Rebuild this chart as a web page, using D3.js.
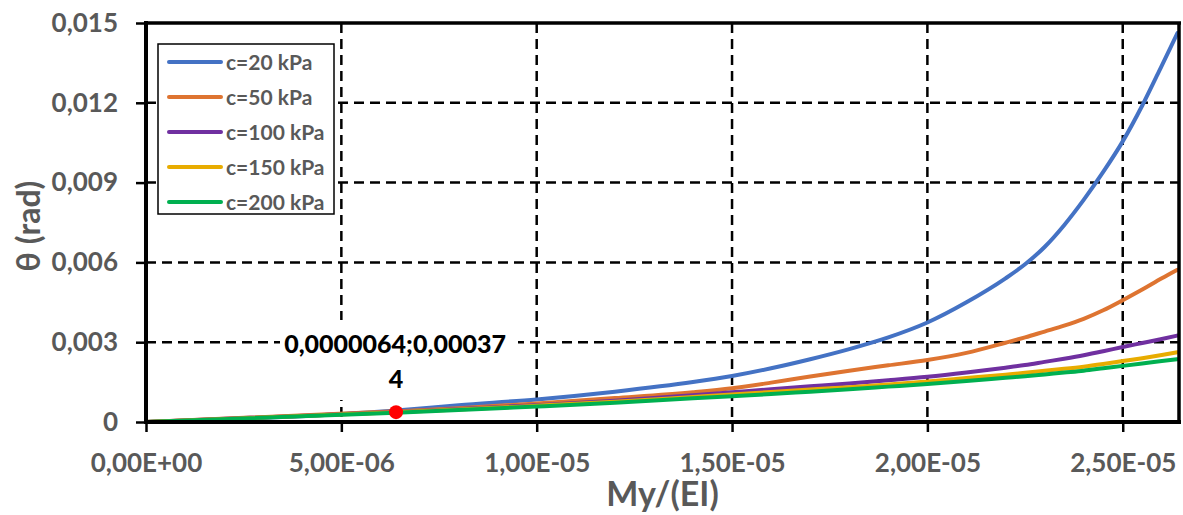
<!DOCTYPE html>
<html>
<head>
<meta charset="utf-8">
<script src="https://cdn.jsdelivr.net/npm/d3@7"></script>
<style>
  html, body { margin: 0; padding: 0; background: #fff; }
  svg { display: block; }
  text { font-family: Lato, "Open Sans", sans-serif; font-weight: bold; }
</style>
</head>
<body>
<svg id="chart" width="1183" height="515"></svg>
<script>
// ---- data ----
const xValues = [0, 6.4e-6, 8e-6, 10e-6, 12e-6, 14e-6, 15e-6, 16e-6, 17e-6, 18e-6, 19e-6, 20e-6, 21e-6, 22e-6, 22.5e-6, 23e-6, 23.5e-6, 24e-6, 24.5e-6, 25e-6, 25.5e-6, 26e-6, 26.4e-6];
const c20  = [0, 0.00043, 0.00063, 0.00085, 0.00114, 0.00150, 0.00173, 0.00202, 0.00236, 0.00274, 0.00318, 0.00374, 0.00450, 0.00540, 0.00593, 0.00658, 0.00740, 0.00835, 0.00940, 0.01055, 0.01190, 0.01340, 0.01462];
const c50  = [0, 0.00040, 0.00052, 0.00070, 0.00090, 0.00112, 0.00127, 0.00148, 0.00171, 0.00193, 0.00213, 0.00233, 0.00260, 0.00298, 0.00318, 0.00340, 0.00362, 0.00388, 0.00420, 0.00458, 0.00498, 0.00540, 0.00572];
const c100 = [0, 0.00038, 0.00049, 0.00063, 0.00080, 0.00101, 0.00112, 0.00123, 0.00134, 0.00145, 0.00157, 0.00170, 0.00186, 0.00204, 0.00214, 0.00226, 0.00238, 0.00251, 0.00266, 0.00282, 0.00297, 0.00312, 0.00325];
const c150 = [0, 0.00037, 0.00047, 0.00061, 0.00076, 0.00094, 0.00103, 0.00113, 0.00122, 0.00131, 0.00141, 0.00152, 0.00165, 0.00178, 0.00185, 0.00193, 0.00200, 0.00208, 0.00218, 0.00229, 0.00240, 0.00252, 0.00262];
const c200 = [0, 0.00035, 0.00045, 0.00058, 0.00072, 0.00089, 0.00097, 0.00105, 0.00114, 0.00123, 0.00133, 0.00143, 0.00154, 0.00166, 0.00172, 0.00179, 0.00186, 0.00193, 0.00202, 0.00211, 0.00220, 0.00229, 0.00236];
const seriesNames = ["c=20 kPa", "c=50 kPa", "c=100 kPa", "c=150 kPa", "c=200 kPa"];
const seriesColors = ["#4472C4", "#DE7431", "#7030A0", "#E8AC00", "#00B050"];
const xTicks = [0, 5e-6, 1e-5, 1.5e-5, 2e-5, 2.5e-5];
const xTickLabels = ["0,00E+00", "5,00E-06", "1,00E-05", "1,50E-05", "2,00E-05", "2,50E-05"];
const yTicks = [0, 0.003, 0.006, 0.009, 0.012, 0.015];
const yTickLabels = ["0", "0,003", "0,006", "0,009", "0,012", "0,015"];
const markedPoint = { x: 6.4e-6, y: 0.00037 };
const markedLabel = ["0,0000064;0,00037", "4"];
const xTitle = "My/(EI)";
const yTitle = "θ (rad)";

// ---- layout ----
const L = 146, R = 1179, T = 23, B = 422;
const svg = d3.select("#chart");
const x = d3.scaleLinear().domain([0, 2.644e-5]).range([L, R]);
const y = d3.scaleLinear().domain([0, 0.015]).range([B, T]);
const grey = "#595959";

// gridlines
const grid = svg.append("g");
grid.selectAll("line.vx").data(xTicks.slice(1)).join("line")
  .attr("x1", d => x(d)).attr("x2", d => x(d)).attr("y1", T).attr("y2", B)
  .attr("stroke", "#000").attr("stroke-width", 2.5).attr("stroke-dasharray", "10,6");
grid.selectAll("line.hy").data(yTicks.slice(1, -1)).join("line")
  .attr("x1", L).attr("x2", R).attr("y1", d => y(d)).attr("y2", d => y(d))
  .attr("stroke", "#000").attr("stroke-width", 2.5).attr("stroke-dasharray", "10,6");

// data label box (covers grid)
const px = x(markedPoint.x);
svg.append("rect").attr("x", 280).attr("y", 320).attr("width", 238).attr("height", 80).attr("fill", "#fff");

// axes
const xAxis = svg.append("g").attr("transform", `translate(0,${B})`)
  .call(d3.axisBottom(x).tickValues(xTicks).tickFormat((d, i) => xTickLabels[i]).tickSize(10).tickPadding(22));
const yAxis = svg.append("g").attr("transform", `translate(${L},0)`)
  .call(d3.axisLeft(y).tickValues(yTicks).tickFormat((d, i) => yTickLabels[i]).tickSize(10).tickPadding(18));
[xAxis, yAxis].forEach(a => {
  a.select(".domain").remove();
  a.selectAll(".tick line").attr("stroke", "#000").attr("stroke-width", 2.5);
  a.selectAll(".tick text").attr("fill", grey).style("font-size", "26px").style("font-family", "Lato").style("font-weight", "bold");
});

// series
const line = d3.line().x(d => x(d[0])).y(d => y(d[1])).curve(d3.curveMonotoneX);
const allSeries = [c20, c50, c100, c150, c200];
svg.append("g").selectAll("path").data(allSeries).join("path")
  .attr("d", s => line(xValues.map((xv, i) => [xv, s[i]])))
  .attr("fill", "none").attr("stroke", (d, i) => seriesColors[i]).attr("stroke-width", 4)
  .attr("stroke-linecap", "round").attr("stroke-linejoin", "round");

// frame
svg.append("line").attr("x1", L).attr("x2", R + 2).attr("y1", T).attr("y2", T).attr("stroke", "#000").attr("stroke-width", 3.5);
svg.append("line").attr("x1", R).attr("x2", R).attr("y1", T).attr("y2", B).attr("stroke", "#000").attr("stroke-width", 3.5);
svg.append("line").attr("x1", L).attr("x2", L).attr("y1", T - 2).attr("y2", B + 2).attr("stroke", "#000").attr("stroke-width", 4);
svg.append("line").attr("x1", L - 2).attr("x2", R + 2).attr("y1", B).attr("y2", B).attr("stroke", "#000").attr("stroke-width", 4);

// marked point
svg.append("circle").attr("cx", px).attr("cy", y(markedPoint.y)).attr("r", 7).attr("fill", "#FF0000");
svg.append("text").attr("x", px - 1).attr("y", 353).attr("text-anchor", "middle")
  .style("font-size", "25px").style("font-weight", 900).attr("fill", "#000").text(markedLabel[0]);
svg.append("text").attr("x", px).attr("y", 388).attr("text-anchor", "middle")
  .style("font-size", "25px").style("font-weight", 900).attr("fill", "#000").text(markedLabel[1]);

// legend
const lg = svg.append("g");
lg.append("rect").attr("x", 158).attr("y", 44).attr("width", 176).attr("height", 170)
  .attr("fill", "#fff").attr("stroke", "#000").attr("stroke-width", 1.5);
const items = lg.selectAll("g.item").data(seriesNames).join("g")
  .attr("transform", (d, i) => `translate(0,${62 + i * 35})`);
items.append("line").attr("x1", 169).attr("x2", 221).attr("y1", 0).attr("y2", 0)
  .attr("stroke", (d, i) => seriesColors[i]).attr("stroke-width", 4).attr("stroke-linecap", "round");
items.append("text").attr("x", 226).attr("y", 0).attr("dy", "0.36em")
  .attr("fill", grey).style("font-size", "21px").text(d => d);

// axis titles
svg.append("text").attr("x", (L + R) / 2 + 0).attr("y", 506).attr("text-anchor", "middle")
  .attr("fill", grey).style("font-size", "34px").text(xTitle);
svg.append("text").attr("transform", "translate(40,226) rotate(-90)").attr("text-anchor", "middle")
  .attr("fill", grey).style("font-size", "32px").text(yTitle);
</script>
</body>
</html>
